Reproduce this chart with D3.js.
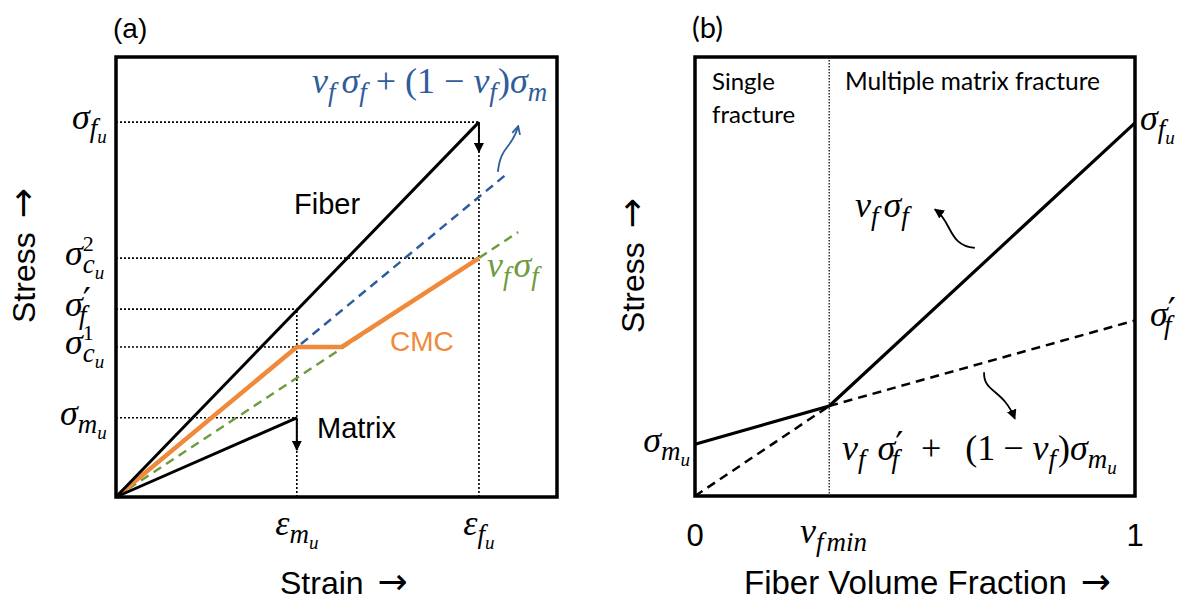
<!DOCTYPE html>
<html>
<head>
<meta charset="utf-8">
<script src="https://cdn.jsdelivr.net/npm/d3@7"></script>
<style>
  body { margin: 0; background: #fff; }
  svg { display: block; }
  .sans { font-family: "Liberation Sans", Arial, sans-serif; }
  .cal { font-family: Lato, "Noto Sans", sans-serif; }
  .math { font-family: "Liberation Serif", "Times New Roman", serif; }
  .arrow { font-family: "DejaVu Sans", sans-serif; }
</style>
</head>
<body>
<svg id="chart" width="1185" height="602"></svg>
<script>
"use strict";

// ---- panel (a): stress vs strain (normalised units) ----
var strainMarks = [0.41, 0.823];                        // eps_mu, eps_fu
var stressMarks = [0.852, 0.543, 0.427, 0.341, 0.18];   // sig_fu, sig_cu^2, sig_f', sig_cu^1, sig_mu
var fiberCurve = [[0, 0], [0.823, 0.852]];
var matrixCurve = [[0, 0], [0.41, 0.18]];
var cmcCurve = [[0, 0], [0.41, 0.341], [0.512, 0.341], [0.823, 0.543]];
var mixtureLine = [[0, 0], [0.887, 0.735]];
var fiberShareLine = [[0, 0], [0.912, 0.602]];
var fiberDrop = [0.852, 0.784];
var matrixDrop = [0.18, 0.107];

// ---- panel (b): stress vs fiber volume fraction ----
var vfMin = 0.305;
var compositeCurve = [[0, 0.118], [0.305, 0.205], [1, 0.85]];
var fiberOnlyLine = [[0, 0], [0.305, 0.205]];
var mixtureLineB = [[0.305, 0.205], [1, 0.40]];
var xTickLabelsB = ["0", "1"];

var svg = d3.select("#chart");

var colors = {
  ink: "#000",
  blue: "#2f5d9a",
  green: "#6f9b3f",
  orange: "#f08a3a"
};

// arrow heads
var defs = svg.append("defs");
defs.append("marker").attr("id", "head").attr("viewBox", "0 0 10 10")
  .attr("refX", 9).attr("refY", 5).attr("markerWidth", 10).attr("markerHeight", 10)
  .attr("markerUnits", "userSpaceOnUse").attr("orient", "auto")
  .append("path").attr("d", "M0,0L10,5L0,10Z").attr("fill", colors.ink);
defs.append("marker").attr("id", "chev").attr("viewBox", "0 0 10 10")
  .attr("refX", 9).attr("refY", 5).attr("markerWidth", 10).attr("markerHeight", 10)
  .attr("markerUnits", "userSpaceOnUse").attr("orient", "auto")
  .append("path").attr("d", "M1,1L9,5L1,9").attr("fill", "none")
  .attr("stroke", colors.blue).attr("stroke-width", 1.8);

// math text from parts: [text, level, dx]; level p = prime
var LV = {
  "0": { s: 36, o: 0 }, "1": { s: 27, o: 8 }, "2": { s: 19, o: 14 },
  "-1": { s: 22, o: -14 }, "p": { s: 36, o: -3, fam: "DejaVu Sans" }
};
function math(g, x, y, parts, anchor, color) {
  var t = g.append("text").attr("class", "math").attr("x", x).attr("y", y)
    .attr("text-anchor", anchor || "start").attr("fill", color || colors.ink);
  var prev = 0;
  parts.forEach(function (p) {
    var L = LV[String(p[1] || 0)];
    var ts = t.append("tspan").text(p[0]).attr("font-size", L.s).attr("dy", L.o - prev);
    if (p[2]) ts.attr("dx", p[2]);
    if (/[a-zσε]/.test(p[0])) ts.attr("font-style", "italic");
    if (L.fam) ts.attr("font-family", L.fam);
    prev = L.o;
  });
  return t;
}

function axisTitle(g, x, y, label, size, rotate) {
  var t = g.append("text").attr("class", "sans").attr("font-size", size);
  if (rotate) t.attr("transform", "translate(" + x + "," + y + ") rotate(-90)");
  else t.attr("x", x).attr("y", y);
  t.append("tspan").text(label);
  t.append("tspan").attr("class", "arrow").attr("font-size", 36).attr("dx", 14).text("→");
  return t;
}

// ================= panel (a) =================
var xA = d3.scaleLinear().domain([0, 1]).range([116, 557]);
var yA = d3.scaleLinear().domain([0, 1]).range([497, 57]);
var gA = svg.append("g");
var lineA = d3.line().x(function (d) { return xA(d[0]); }).y(function (d) { return yA(d[1]); });

// dotted guides
var guideStops = [strainMarks[1], strainMarks[1], strainMarks[0], strainMarks[0], strainMarks[0]];
stressMarks.forEach(function (s, i) {
  gA.append("line").attr("x1", xA(0)).attr("x2", xA(guideStops[i]))
    .attr("y1", yA(s)).attr("y2", yA(s))
    .attr("stroke", colors.ink).attr("stroke-width", 1.6).attr("stroke-dasharray", "2,2");
});
[[strainMarks[0], stressMarks[2]], [strainMarks[1], stressMarks[0]]].forEach(function (d) {
  gA.append("line").attr("x1", xA(d[0])).attr("x2", xA(d[0]))
    .attr("y1", yA(0)).attr("y2", yA(d[1]))
    .attr("stroke", colors.ink).attr("stroke-width", 1.6).attr("stroke-dasharray", "2,2");
});

gA.append("path").attr("d", lineA(fiberShareLine)).attr("fill", "none")
  .attr("stroke", colors.green).attr("stroke-width", 2.5).attr("stroke-dasharray", "9,6");
gA.append("path").attr("d", lineA(mixtureLine)).attr("fill", "none")
  .attr("stroke", colors.blue).attr("stroke-width", 2.5).attr("stroke-dasharray", "9,6");
gA.append("path").attr("d", lineA(cmcCurve)).attr("fill", "none")
  .attr("stroke", colors.orange).attr("stroke-width", 4.5).attr("stroke-linejoin", "round");
gA.append("path").attr("d", lineA(fiberCurve)).attr("fill", "none")
  .attr("stroke", colors.ink).attr("stroke-width", 3);
gA.append("path").attr("d", lineA(matrixCurve)).attr("fill", "none")
  .attr("stroke", colors.ink).attr("stroke-width", 3);

// failure drops
[[strainMarks[1], fiberDrop], [strainMarks[0], matrixDrop]].forEach(function (d) {
  gA.append("line").attr("x1", xA(d[0])).attr("x2", xA(d[0]))
    .attr("y1", yA(d[1][0])).attr("y2", yA(d[1][1]))
    .attr("stroke", colors.ink).attr("stroke-width", 2).attr("marker-end", "url(#head)");
});

// blue curly pointer
var blueCurl = [[0.866, 0.739], [0.872, 0.80], [0.898, 0.79], [0.912, 0.843]];
gA.append("path")
  .attr("d", "M" + xA(blueCurl[0][0]) + "," + yA(blueCurl[0][1]) +
    "C" + blueCurl.slice(1).map(function (d) { return xA(d[0]) + "," + yA(d[1]); }).join(" "))
  .attr("fill", "none").attr("stroke", colors.blue).attr("stroke-width", 1.8)
  .attr("marker-end", "url(#chev)");

gA.append("rect").attr("x", xA(0)).attr("y", yA(1))
  .attr("width", xA(1) - xA(0)).attr("height", yA(0) - yA(1))
  .attr("fill", "none").attr("stroke", colors.ink).attr("stroke-width", 3.5);

// labels (a)
var yLabelsA = [
  [["σ"], ["f", 1], ["u", 2]],
  [["σ"], ["2", -1], ["c", 1, -11], ["u", 2]],
  [["σ"], ["′", "p"], ["f", 1, -12]],
  [["σ"], ["1", -1], ["c", 1, -11], ["u", 2]],
  [["σ"], ["m", 1], ["u", 2]]
];
var yLabelStartA = [72, 65, 65, 65, 60];
stressMarks.forEach(function (s, i) {
  math(gA, yLabelStartA[i], yA(s) + 7, yLabelsA[i], "start");
});
var xLabelsA = [
  [["ε"], ["m", 1], ["u", 2]],
  [["ε"], ["f", 1], ["u", 2]]
];
strainMarks.forEach(function (s, i) {
  math(gA, xA(s), 535, xLabelsA[i], "middle");
});

math(gA, 312, 93, [["v"], ["f", 1], ["σ", 0, 6], ["f", 1], ["\u00a0+\u00a0(1\u00a0−\u00a0", 0],
  ["v"], ["f", 1], [")", 0, 1], ["σ"], ["m", 1]], "start", colors.blue);
math(gA, 487, 277, [["v"], ["f", 1], ["σ", 0, 3], ["f", 1]], "start", colors.green);

gA.append("text").attr("class", "sans").attr("x", 294).attr("y", 214).attr("font-size", 29).text("Fiber");
gA.append("text").attr("class", "sans").attr("x", 317).attr("y", 438).attr("font-size", 29).text("Matrix");
gA.append("text").attr("class", "sans").attr("x", 390).attr("y", 351).attr("font-size", 28)
  .attr("fill", colors.orange).text("CMC");
gA.append("text").attr("class", "sans").attr("x", 113).attr("y", 38).attr("font-size", 28).text("(a)");
axisTitle(gA, 280, 594, "Strain", 32, false);
axisTitle(gA, 35, 323, "Stress", 32, true);

// ================= panel (b) =================
var xB = d3.scaleLinear().domain([0, 1]).range([695, 1135]);
var yB = d3.scaleLinear().domain([0, 1]).range([496, 57]);
var gB = svg.append("g");
var lineB = d3.line().x(function (d) { return xB(d[0]); }).y(function (d) { return yB(d[1]); });

gB.append("line").attr("x1", xB(vfMin)).attr("x2", xB(vfMin)).attr("y1", yB(1)).attr("y2", yB(0))
  .attr("stroke", colors.ink).attr("stroke-width", 1.2).attr("stroke-dasharray", "1.5,1.5");

[fiberOnlyLine, mixtureLineB].forEach(function (d) {
  gB.append("path").attr("d", lineB(d)).attr("fill", "none")
    .attr("stroke", colors.ink).attr("stroke-width", 2.5).attr("stroke-dasharray", "9,6");
});
gB.append("path").attr("d", lineB(compositeCurve)).attr("fill", "none")
  .attr("stroke", colors.ink).attr("stroke-width", 3.2);

var curls = [
  [[0.636, 0.565], [0.575, 0.57], [0.585, 0.625], [0.545, 0.653]],
  [[0.657, 0.282], [0.655, 0.235], [0.70, 0.245], [0.727, 0.176]]
];
curls.forEach(function (c) {
  gB.append("path")
    .attr("d", "M" + xB(c[0][0]) + "," + yB(c[0][1]) +
      "C" + c.slice(1).map(function (d) { return xB(d[0]) + "," + yB(d[1]); }).join(" "))
    .attr("fill", "none").attr("stroke", colors.ink).attr("stroke-width", 1.8)
    .attr("marker-end", "url(#head)");
});

gB.append("rect").attr("x", xB(0)).attr("y", yB(1))
  .attr("width", xB(1) - xB(0)).attr("height", yB(0) - yB(1))
  .attr("fill", "none").attr("stroke", colors.ink).attr("stroke-width", 3.5);

// labels (b)
math(gB, 1140, 130, [["σ"], ["f", 1], ["u", 2]], "start");
math(gB, 1150, yB(mixtureLineB[1][1]) + 6, [["σ"], ["′", "p"], ["f", 1, -12]], "start");
math(gB, 690, yB(compositeCurve[0][1]) + 8, [["σ"], ["m", 1], ["u", 2]], "end");
math(gB, 800, 543, [["v"], ["f", 1], ["min", 1, 3]], "start");
math(gB, 855, 217, [["v"], ["f", 1], ["σ", 0, 5], ["f", 1]], "start");
math(gB, 842, 460, [["v"], ["f", 1], ["σ", 0, 12], ["′", "p"], ["f", 1, -12], ["+", 0, 22],
  ["(1", 0, 24], ["−", 0, 8], ["v", 0, 9], ["f", 1], [")", 0, 2], ["σ"], ["m", 1], ["u", 2]], "start");

xTickLabelsB.forEach(function (t, i) {
  gB.append("text").attr("class", "sans").attr("x", xB(i)).attr("y", 546)
    .attr("font-size", 31).attr("text-anchor", "middle").text(t);
});

gB.append("text").attr("class", "cal").attr("x", 692).attr("y", 38).attr("font-size", 29).text("(b)");
gB.append("text").attr("class", "cal").attr("x", 712).attr("y", 90).attr("font-size", 24).text("Single");
gB.append("text").attr("class", "cal").attr("x", 712).attr("y", 123).attr("font-size", 24).text("fracture");
gB.append("text").attr("class", "cal").attr("x", 845).attr("y", 90).attr("font-size", 24.5).text("Multiple matrix fracture");
axisTitle(gB, 744, 594, "Fiber Volume Fraction", 33, false);
axisTitle(gB, 644, 333, "Stress", 32, true);
</script>
</body>
</html>
